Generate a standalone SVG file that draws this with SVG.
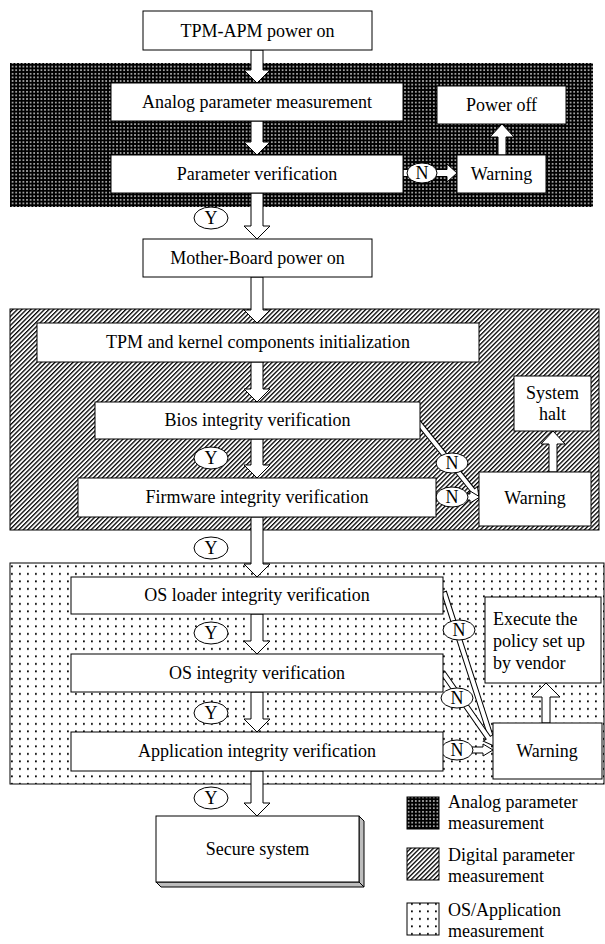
<svg xmlns="http://www.w3.org/2000/svg" width="605" height="944" viewBox="0 0 605 944">
<style>
.box{fill:#fff;stroke:#000;stroke-width:1}
.t{font-family:"Liberation Serif","Times New Roman",serif;font-size:18px;fill:#000}
.c{text-anchor:middle}
.arr{fill:#fff;stroke:#000;stroke-width:1}
.ell{fill:#fff;stroke:#000;stroke-width:1}
.reg{stroke:#000;stroke-width:1}
</style>
<defs>
<pattern id="pAnalog" width="3.6" height="3.6" patternUnits="userSpaceOnUse"><rect width="3.6" height="3.6" fill="#000"/><rect x="1" y="1" width="1.6" height="1.6" fill="#c8c8c8"/></pattern>
<pattern id="pDigital" width="3.2" height="3.2" patternUnits="userSpaceOnUse" patternTransform="rotate(45)"><rect width="3.2" height="3.2" fill="#fff"/><rect width="1.3" height="3.2" fill="#000"/></pattern>
<pattern id="pDots" width="8" height="7.5" patternUnits="userSpaceOnUse"><rect width="8" height="7.5" fill="#fff"/><rect x="3" y="3" width="1.8" height="1.8" fill="#000"/></pattern>
</defs>
<rect width="605" height="944" fill="#fff"/>

<g id="regions">
<rect id="region-analog" x="10" y="63" width="583" height="144" fill="url(#pAnalog)"/>
<rect id="region-digital" class="reg" x="10" y="309" width="589" height="221" fill="url(#pDigital)"/>
<rect id="region-os" class="reg" x="10" y="563" width="594" height="221" fill="url(#pDots)"/>
</g>

<g id="connectors">
<path class="arr" d="M251,50 H263 V70 H270 L257,83 L244,70 H251 Z"/>
<path class="arr" d="M251,121 H263 V142 H270 L257,155 L244,142 H251 Z"/>
<path class="arr" d="M251,193 H263 V226 H270 L257,239 L244,226 H251 Z"/>
<path class="arr" d="M251,277 H263 V310 H270 L257,323 L244,310 H251 Z"/>
<path class="arr" d="M251,362 H263 V389 H270 L257,402 L244,389 H251 Z"/>
<path class="arr" d="M251,439 H263 V465 H270 L257,478 L244,465 H251 Z"/>
<path class="arr" d="M251,517 H263 V564 H270 L257,577 L244,564 H251 Z"/>
<path class="arr" d="M251,614 H263 V641 H270 L257,654 L244,641 H251 Z"/>
<path class="arr" d="M251,692 H263 V719 H270 L257,732 L244,719 H251 Z"/>
<path class="arr" d="M251,771 H263 V803 H270 L257,816 L244,803 H251 Z"/>
<!-- analog side -->
<path class="arr" d="M403,169.5 H447 V164 L457,173 L447,182 V176.5 H403 Z"/>
<path class="arr" d="M498,155 V137 H490 L502,124 L514,137 H506 V155 Z"/>
<!-- digital side -->
<path class="arr" d="M549,472 V444 H541 L553,431 L565,444 H557 V472 Z"/>
<path class="arr" transform="translate(418,422) rotate(51.25)" d="M0,-2.5 H87.5 V-6 L97.5,0 L87.5,6 V2.5 H0 Z"/>
<path class="arr" d="M435,494 H470 V491 L480,497 L470,503 V500 H435 Z"/>
<!-- os side -->
<path class="arr" transform="translate(444,592) rotate(72.1)" d="M0,-2.5 H153 V-6 L163,0 L153,6 V2.5 H0 Z"/>
<path class="arr" transform="translate(443,673) rotate(55.06)" d="M0,-2.5 H79 V-6 L89,0 L79,6 V2.5 H0 Z"/>
<path class="arr" d="M443,747 H483 V744 L493,750 L483,756 V753 H443 Z"/>
<path class="arr" d="M542,723 V697 H532 L546,683 L560,697 H550 V723 Z"/>
</g>

<g id="labels">
<ellipse class="ell" cx="422" cy="173" rx="15" ry="10"/><text class="t c" x="422" y="179">N</text>
<ellipse class="ell" cx="211" cy="218" rx="17" ry="11"/><text class="t c" x="211" y="224">Y</text>
<ellipse class="ell" cx="452" cy="463" rx="16" ry="10"/><text class="t c" x="452" y="469">N</text>
<ellipse class="ell" cx="452" cy="497" rx="16" ry="10"/><text class="t c" x="452" y="503">N</text>
<ellipse class="ell" cx="211" cy="458" rx="17" ry="11"/><text class="t c" x="211" y="464">Y</text>
<ellipse class="ell" cx="211" cy="548" rx="17" ry="11"/><text class="t c" x="211" y="554">Y</text>
<ellipse class="ell" cx="459" cy="630" rx="16" ry="10"/><text class="t c" x="459" y="636">N</text>
<ellipse class="ell" cx="211" cy="633" rx="17" ry="11"/><text class="t c" x="211" y="639">Y</text>
<ellipse class="ell" cx="457" cy="698" rx="16" ry="10"/><text class="t c" x="457" y="704">N</text>
<ellipse class="ell" cx="211" cy="713" rx="17" ry="11"/><text class="t c" x="211" y="719">Y</text>
<ellipse class="ell" cx="457" cy="750" rx="16" ry="10"/><text class="t c" x="457" y="756">N</text>
<ellipse class="ell" cx="211" cy="798" rx="17" ry="11"/><text class="t c" x="211" y="804">Y</text>
</g>

<g id="n-tpm-apm"><rect class="box" x="143" y="11" width="229" height="39"/><text class="t c" x="257.5" y="37">TPM-APM power on</text></g>
<g id="n-analog"><rect class="box" x="111" y="83" width="292" height="38"/><text class="t c" x="257" y="108">Analog parameter measurement</text></g>
<g id="n-poweroff"><rect class="box" x="437" y="86" width="129" height="38"/><text class="t c" x="501.5" y="111">Power off</text></g>
<g id="n-paramver"><rect class="box" x="111" y="155" width="292" height="38"/><text class="t c" x="257" y="180">Parameter verification</text></g>
<g id="n-warning1"><rect class="box" x="457" y="155" width="89" height="38"/><text class="t c" x="501.5" y="180">Warning</text></g>
<g id="n-mobo"><rect class="box" x="143" y="239" width="229" height="38"/><text class="t c" x="257.5" y="264">Mother-Board power on</text></g>
<g id="n-tpmkernel"><rect class="box" x="37" y="323" width="442" height="39"/><text class="t c" x="258" y="348">TPM and kernel components initialization</text></g>
<g id="n-bios"><rect class="box" x="95" y="402" width="325" height="37"/><text class="t c" x="257.5" y="426">Bios integrity verification</text></g>
<g id="n-syshalt"><rect class="box" x="514" y="376" width="77" height="55"/><text class="t c" x="552.5" y="399">System</text><text class="t c" x="552.5" y="420">halt</text></g>
<g id="n-firmware"><rect class="box" x="78" y="478" width="358" height="39"/><text class="t c" x="257" y="503">Firmware integrity verification</text></g>
<g id="n-warning2"><rect class="box" x="479" y="472" width="112" height="54"/><text class="t c" x="535" y="504">Warning</text></g>
<g id="n-osloader"><rect class="box" x="71" y="577" width="372" height="37"/><text class="t c" x="257" y="601">OS loader integrity verification</text></g>
<g id="n-execute"><rect class="box" x="485" y="597" width="116" height="86"/><text class="t" x="493" y="625">Execute the</text><text class="t" x="493" y="647">policy set up</text><text class="t" x="493" y="669">by vendor</text></g>
<g id="n-os"><rect class="box" x="71" y="654" width="372" height="38"/><text class="t c" x="257" y="679">OS integrity verification</text></g>
<g id="n-app"><rect class="box" x="71" y="732" width="372" height="39"/><text class="t c" x="257" y="757">Application integrity verification</text></g>
<g id="n-warning3"><rect class="box" x="493" y="723" width="109" height="56"/><text class="t c" x="547" y="757">Warning</text></g>
<g id="n-secure">
<polygon points="359,816 364,821 364,887 359,882" fill="#bdbdbd" stroke="#000" stroke-width="1"/>
<polygon points="156,882 161,887 364,887 359,882" fill="#bdbdbd" stroke="#000" stroke-width="1"/>
<rect class="box" x="156" y="816" width="203" height="66"/><text class="t c" x="257.5" y="855">Secure system</text></g>

<g id="legend">
<rect x="407" y="797" width="32" height="32" fill="url(#pAnalog)" stroke="#000" stroke-width="1"/>
<text class="t" x="448" y="808">Analog parameter</text><text class="t" x="448" y="829">measurement</text>
<rect x="407" y="848" width="32" height="32" fill="url(#pDigital)" stroke="#000" stroke-width="1"/>
<text class="t" x="448" y="861">Digital parameter</text><text class="t" x="448" y="882">measurement</text>
<rect x="407" y="903" width="32" height="32" fill="url(#pDots)" stroke="#000" stroke-width="1"/>
<text class="t" x="448" y="916">OS/Application</text><text class="t" x="448" y="937">measurement</text>
</g>
</svg>
